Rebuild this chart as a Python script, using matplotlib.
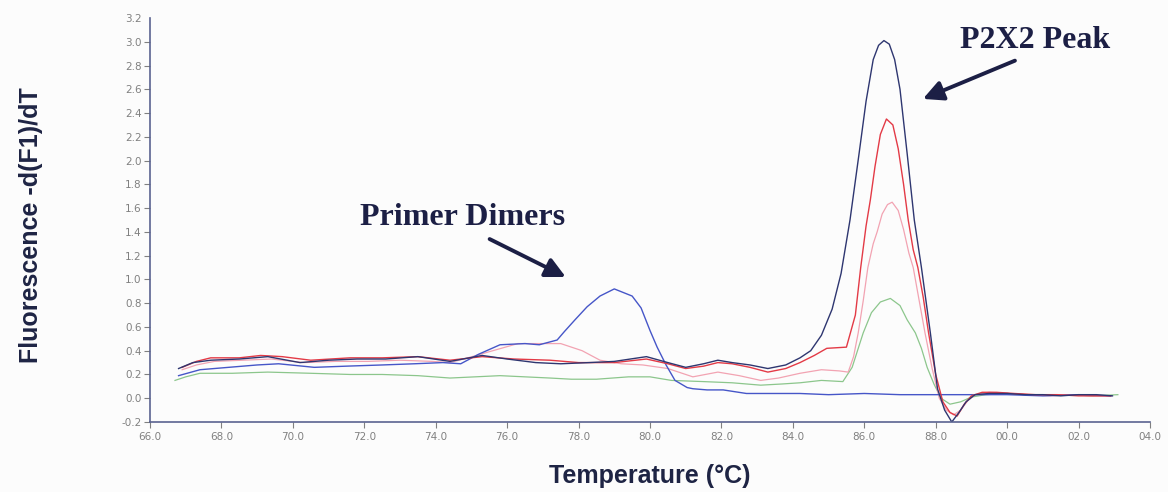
import matplotlib
matplotlib.use("Agg")
import matplotlib.pyplot as plt

# melt curve data (temperature in degC, -d(F1)/dT)
navy_t = [66.8, 67.2, 67.7, 68.5, 69.3, 70.2, 71.0, 71.8, 72.6, 73.5, 74.4, 75.3, 76.0, 76.8,
          77.5, 78.3, 79.0, 79.9, 80.5, 81.0, 81.5, 81.9, 82.3, 82.8, 83.3, 83.8, 84.2, 84.5,
          84.8, 85.1, 85.35, 85.6, 85.85, 86.05, 86.25, 86.4, 86.55, 86.7, 86.85, 87.0, 87.2,
          87.4, 87.6, 87.85, 88.05, 88.25, 88.45, 88.65, 88.85, 89.1, 89.5, 90.0, 90.5, 91.0,
          91.5, 92.0, 92.5, 92.95]
navy_f = [0.25, 0.30, 0.32, 0.33, 0.35, 0.30, 0.32, 0.33, 0.33, 0.35, 0.31, 0.36, 0.33, 0.30,
          0.29, 0.30, 0.31, 0.35, 0.30, 0.26, 0.29, 0.32, 0.30, 0.28, 0.25, 0.28, 0.34, 0.40,
          0.53, 0.75, 1.05, 1.50, 2.05, 2.50, 2.85, 2.97, 3.01, 2.98, 2.85, 2.60, 2.06,
          1.50, 1.10, 0.55, 0.08, -0.10, -0.20, -0.12, -0.03, 0.03, 0.04, 0.04, 0.03, 0.03,
          0.02, 0.03, 0.03, 0.02]

red_t = [66.9, 67.3, 67.7, 68.5, 69.1, 69.7, 70.5, 71.6, 72.5, 73.5, 74.4, 75.3, 76.2, 77.2,
         78.0, 79.0, 79.9, 80.5, 81.0, 81.5, 81.9, 82.3, 82.8, 83.3, 83.8, 84.2, 84.6, 84.95,
         85.5, 85.75, 85.9, 86.05, 86.17, 86.3, 86.45, 86.62, 86.8, 86.95, 87.1, 87.23, 87.37,
         87.5, 87.65, 87.8, 88.0, 88.2, 88.4, 88.6, 88.8, 89.0, 89.3, 89.7, 90.2, 90.8, 91.4,
         92.0, 92.5, 92.9]
red_f = [0.26, 0.31, 0.34, 0.34, 0.36, 0.35, 0.32, 0.34, 0.34, 0.35, 0.32, 0.35, 0.33, 0.32,
         0.30, 0.30, 0.33, 0.29, 0.25, 0.27, 0.30, 0.29, 0.26, 0.22, 0.25, 0.30, 0.36, 0.42,
         0.43, 0.70, 1.10, 1.45, 1.67, 1.95, 2.22, 2.35, 2.30, 2.10, 1.80, 1.50, 1.25,
         1.10, 0.85, 0.55, 0.20, -0.03, -0.12, -0.15, -0.05, 0.02, 0.05, 0.05, 0.04, 0.03, 0.03,
         0.02, 0.02, 0.02]

pink_t = [66.9, 67.3, 67.8, 68.6, 69.4, 70.3, 71.2, 72.1, 73.0, 73.9, 74.4, 74.9, 75.6, 76.3,
          77.0, 77.5, 78.1, 78.6, 79.2, 79.8, 80.5, 81.2, 81.9, 82.5, 83.1, 83.6, 84.2, 84.8,
          85.3, 85.55, 85.7, 85.83, 85.97, 86.1, 86.25, 86.36, 86.5, 86.65, 86.78, 86.95, 87.1,
          87.25, 87.37, 87.55, 87.7, 87.9, 88.1, 88.3, 88.5, 88.7, 88.9, 89.1, 89.5, 90.0, 90.6,
          91.2, 91.8, 92.4, 92.9]
pink_f = [0.24, 0.28, 0.31, 0.32, 0.33, 0.30, 0.31, 0.31, 0.32, 0.31, 0.30, 0.34, 0.40, 0.46,
          0.46, 0.46, 0.40, 0.32, 0.29, 0.28, 0.25, 0.18, 0.22, 0.19, 0.15, 0.17, 0.21, 0.24,
          0.23, 0.22, 0.35, 0.55, 0.82, 1.10, 1.30, 1.40, 1.55, 1.63, 1.65, 1.58, 1.42,
          1.22, 1.10, 0.80, 0.55, 0.25, 0.00, -0.10, -0.14, -0.10, -0.02, 0.03, 0.05, 0.04, 0.03,
          0.02, 0.03, 0.02, 0.02]

green_t = [66.7, 67.0, 67.4, 68.3, 69.3, 70.5, 71.6, 72.5, 73.5, 74.4, 75.1, 75.8, 76.5, 77.2,
           77.8, 78.5, 79.4, 80.0, 80.6, 81.5, 82.3, 83.1, 83.7, 84.2, 84.8, 85.4, 85.66, 85.97,
           86.2, 86.45, 86.73, 87.0, 87.2, 87.43, 87.6, 87.76, 87.95, 88.15, 88.4, 88.7, 89.0,
           89.4, 90.0, 90.6, 91.2, 91.8, 92.4, 93.1]
green_f = [0.15, 0.18, 0.21, 0.21, 0.22, 0.21, 0.20, 0.20, 0.19, 0.17, 0.18, 0.19, 0.18, 0.17,
           0.16, 0.16, 0.18, 0.18, 0.15, 0.14, 0.13, 0.11, 0.12, 0.13, 0.15, 0.14, 0.26, 0.55,
           0.72, 0.81, 0.84, 0.78, 0.66, 0.55, 0.42, 0.26, 0.12, 0.00, -0.05, -0.03, 0.01,
           0.03, 0.04, 0.03, 0.03, 0.03, 0.02, 0.03]

blue_t = [66.8, 67.4, 68.2, 69.0, 69.6, 70.6, 71.5, 72.5, 73.4, 74.2, 74.7, 75.2, 75.8, 76.5,
          76.9, 77.4, 77.6, 77.9, 78.24, 78.6, 79.0, 79.5, 79.75, 80.0, 80.2, 80.45, 80.7, 81.04,
          81.2, 81.6, 82.05, 82.7, 83.5, 84.2, 85.0, 86.0, 87.0, 88.0, 89.0, 90.0, 91.0, 92.0,
          92.9]
blue_f = [0.19, 0.24, 0.26, 0.28, 0.29, 0.26, 0.27, 0.28, 0.29, 0.30, 0.29, 0.37, 0.45, 0.46,
          0.45, 0.49, 0.56, 0.66, 0.77, 0.86, 0.92, 0.86, 0.76, 0.57, 0.43, 0.28, 0.15, 0.09,
          0.08, 0.07, 0.07, 0.04, 0.04, 0.04, 0.03, 0.04, 0.03, 0.03, 0.03, 0.03, 0.02, 0.03,
          0.02]

x_ticks = [66, 68, 70, 72, 74, 76, 78, 80, 82, 84, 86, 88, 90, 92, 94]
x_labels = ["66.0", "68.0", "70.0", "72.0", "74.0", "76.0", "78.0", "80.0", "82.0",
            "84.0", "86.0", "88.0", "00.0", "02.0", "04.0"]
y_ticks = [-0.2, 0.0, 0.2, 0.4, 0.6, 0.8, 1.0, 1.2, 1.4, 1.6, 1.8, 2.0, 2.2, 2.4, 2.6,
           2.8, 3.0, 3.2]

fig = plt.figure(figsize=(11.68, 4.92), dpi=100, facecolor="#fcfcfc")
ax = fig.add_axes([150 / 1168, 70 / 492, 1000 / 1168, 404 / 492])
ax.set_facecolor("#fcfcfc")

ax.plot(green_t, green_f, color="#8cc68c", lw=0.9)
ax.plot(pink_t, pink_f, color="#f2a3b2", lw=0.9)
ax.plot(blue_t, blue_f, color="#4656c8", lw=1.0)
ax.plot(red_t, red_f, color="#e33a46", lw=1.0)
ax.plot(navy_t, navy_f, color="#2e3670", lw=1.0)

ax.set_xlim(66, 94)
ax.set_ylim(-0.2, 3.2)
ax.set_xticks(x_ticks)
ax.set_xticklabels(x_labels)
ax.set_yticks(y_ticks)
ax.set_yticklabels(["%.1f" % v for v in y_ticks])

for s in ["top", "right"]:
    ax.spines[s].set_visible(False)
for s in ["left", "bottom"]:
    ax.spines[s].set_color("#5a6390")
    ax.spines[s].set_linewidth(1.2)

ax.tick_params(axis="both", colors="#808080", labelsize=7.5, length=4, width=0.8)
ax.tick_params(axis="y", pad=2)
ax.tick_params(axis="x", pad=3)
# top label (3.2) has no tick mark in the original
ax.yaxis.get_major_ticks()[-1].tick1line.set_visible(False)

fig.text(31 / 1168, 1 - 225 / 492, "Fluorescence -d(F1)/dT", rotation=90,
         ha="center", va="center", fontsize=18, fontweight="bold",
         family="Liberation Sans", color="#1e2444")
fig.text(650 / 1168, 1 - 476 / 492, "Temperature (\u00b0C)", ha="center", va="center",
         fontsize=18, fontweight="bold", family="Liberation Sans", color="#1e2444")

txt_color = "#1c1f45"
ax.annotate("", xy=(87.57, 2.51), xytext=(90.29, 2.85),
            arrowprops=dict(arrowstyle="-|>", lw=2.8, color=txt_color, mutation_scale=30))
ax.text(90.79, 3.01, "P2X2 Peak", ha="center", va="center", fontsize=23,
        fontweight="bold", family="Liberation Serif", color=txt_color)

ax.annotate("", xy=(77.71, 1.01), xytext=(75.44, 1.35),
            arrowprops=dict(arrowstyle="-|>", lw=2.8, color=txt_color, mutation_scale=30))
ax.text(77.62, 1.52, "Primer Dimers", ha="right", va="center", fontsize=23,
        fontweight="bold", family="Liberation Serif", color=txt_color)

fig.savefig("out.png", dpi=100, facecolor=fig.get_facecolor())
